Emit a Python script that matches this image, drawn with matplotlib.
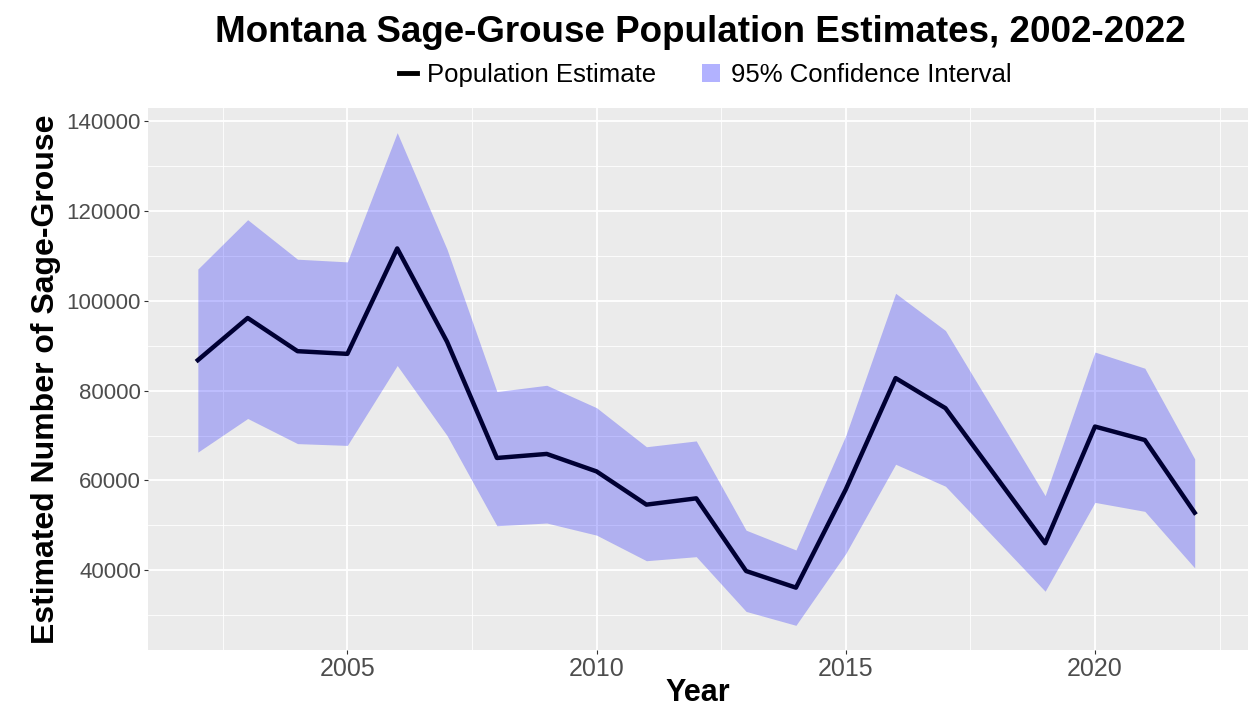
import matplotlib.pyplot as plt
from matplotlib.patches import Patch
from matplotlib.lines import Line2D

# Montana sage-grouse population estimates (2018 not shown in chart)
years = [2002, 2003, 2004, 2005, 2006, 2007, 2008, 2009, 2010, 2011, 2012,
         2013, 2014, 2015, 2016, 2017, 2019, 2020, 2021, 2022]
estimate = [86800, 96200, 88800, 88200, 111700, 90900, 65000, 65900, 62000, 54600, 56000,
            39800, 36100, 58000, 82800, 76100, 46000, 72000, 69000, 52800]
upper = [107100, 118100, 109300, 108700, 137500, 111500, 79800, 81200, 76200, 67500, 68800,
         48900, 44500, 70000, 101700, 93400, 56600, 88600, 85000, 64800]
lower = [66300, 73800, 68200, 67800, 85600, 70000, 49900, 50500, 47800, 42100, 43000,
         30800, 27700, 43700, 63600, 58700, 35300, 55100, 53100, 40500]

plt.rcParams['font.family'] = ['Liberation Sans', 'DejaVu Sans']

fig = plt.figure(figsize=(12.48, 7.11), dpi=100)
W, H = 1248, 711
ax = fig.add_axes([148 / W, (H - 650) / H, (1248 - 148) / W, (650 - 108) / H])
ax.set_facecolor('#EBEBEB')

ax.fill_between(years, lower, upper, color='blue', alpha=0.25, linewidth=0, zorder=2)
ax.plot(years, estimate, color='#000033', linewidth=3.2, zorder=3)

ax.set_xlim(2001, 2023.07)
ax.set_ylim(22200, 143000)
ax.set_xticks([2005, 2010, 2015, 2020])
ax.set_xticks([2002.5, 2007.5, 2012.5, 2017.5, 2022.5], minor=True)
ax.set_yticks([40000, 60000, 80000, 100000, 120000, 140000])
ax.set_yticks([30000, 50000, 70000, 90000, 110000, 130000], minor=True)
ax.grid(True, which='major', color='white', linewidth=1.3, zorder=1)
ax.grid(True, which='minor', color='white', linewidth=0.6, zorder=1)
ax.set_axisbelow(True)
for s in ax.spines.values():
    s.set_visible(False)
ax.tick_params(which='major', length=3, color='#333333', labelcolor='#4D4D4D', pad=2)
ax.tick_params(axis='x', labelsize=18)
ax.tick_params(axis='y', labelsize=16)
ax.tick_params(which='minor', length=0)

ax.set_xlabel('Year', fontsize=22, fontweight='bold', labelpad=-2)
ax.set_ylabel('Estimated Number of Sage-Grouse', fontsize=23, fontweight='bold', labelpad=4)

fig.text(700 / W, 1 - 32 / H, 'Montana Sage-Grouse Population Estimates, 2002-2022',
         ha='center', va='center', fontsize=26.5, fontweight='bold')

handles = [Line2D([0], [0], color='black', linewidth=3.5),
           Patch(facecolor='blue', alpha=0.3, edgecolor='none')]
fig.legend(handles, ['Population Estimate', '95% Confidence Interval'],
           loc='center', bbox_to_anchor=(705 / W, 1 - 75 / H), ncol=2, frameon=False,
           fontsize=18.5, handlelength=0.7, handletextpad=0.4, columnspacing=1.8)

fig.savefig('out.png', dpi=100)
